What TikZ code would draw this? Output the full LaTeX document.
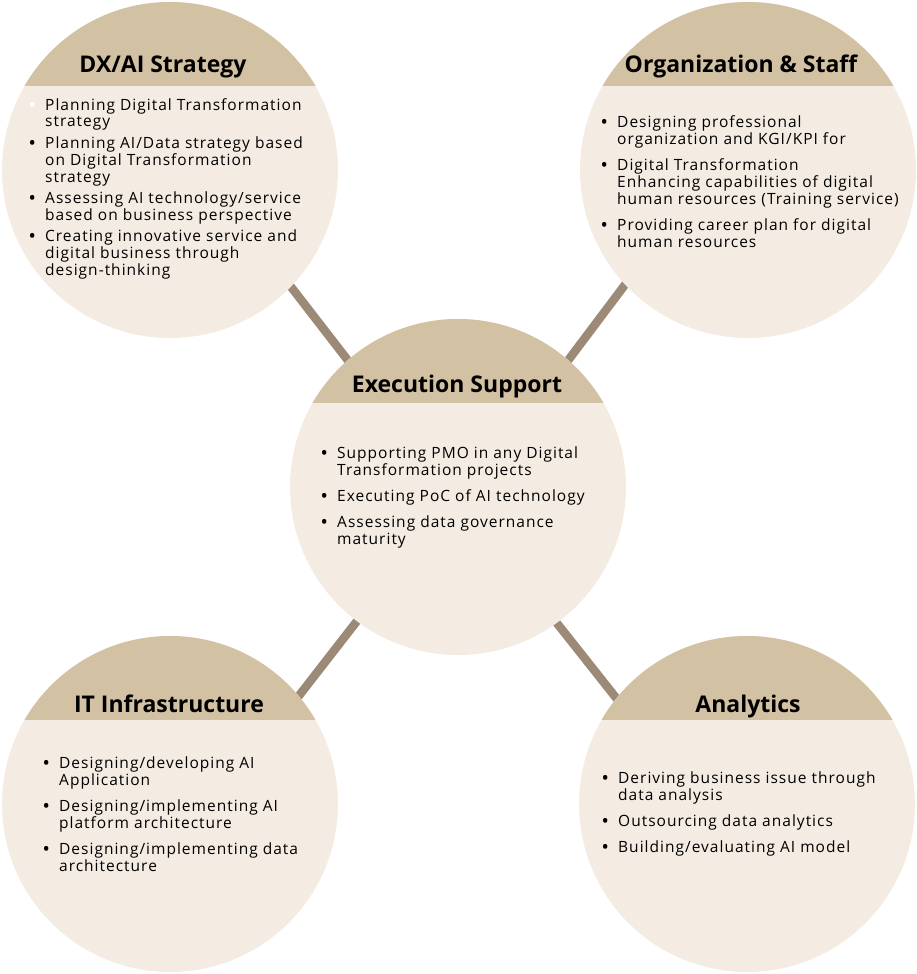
\documentclass[tikz,border=0pt]{standalone}
\usepackage{fontspec}
\setmainfont{Open Sans}
\newfontfamily\bodyf[LetterSpace=6.5]{Open Sans}
\definecolor{capc}{HTML}{D2C1A2}
\definecolor{bodyc}{HTML}{F4ECE2}
\definecolor{linkc}{HTML}{9D8A76}
\pgfdeclarelayer{background}
\pgfsetlayers{background,main}
\newcommand\bul{\leavevmode\llap{\textbf{\textbullet}\hspace{9pt}}}
\newcommand\wbul{\leavevmode\llap{\textcolor{white}{\textbf{\textbullet}}\hspace{9pt}}}
\newcommand\bubble[3]{%
  \node[bubblec] (#1) at (#2,#3) {};
  \begin{scope}
    \clip (#2,#3) circle (168pt);
    \fill[capc] ({#2-170},{#3-170}) rectangle ({#2+170},{#3-84});
  \end{scope}}
\tikzset{
  bubblec/.style={circle, fill=bodyc, minimum size=336pt, inner sep=0pt},
  titlec/.style={font=\fontsize{23}{26}\selectfont\bfseries, inner sep=0pt, anchor=base},
  txtc/.style={font=\bodyf\fontsize{15.5}{17}\selectfont, inner sep=0pt, anchor=base west, align=left},
  linkl/.style={draw=linkc, line width=8.5pt, shorten <=-8pt, shorten >=-8pt}
}
\begin{document}
\begin{tikzpicture}[x=1pt,y=-1pt]
\useasboundingbox (0,0) rectangle (916,974);
\bubble{dx}{170}{170}
\bubble{org}{748}{170}
\bubble{ex}{458}{487}
\bubble{it}{170}{804}
\bubble{an}{747}{804}
\begin{pgfonlayer}{background}
\draw[linkl] (dx.-44.5) -- (ex.131);
\draw[linkl] (org.223) -- (ex.49.5);
\draw[linkl] (it.40) -- (ex.233);
\draw[linkl] (an.141) -- (ex.-54);
\end{pgfonlayer}
\node[titlec] (dxh) at (163,73) {DX/AI Strategy};
\node[titlec] (orgh) at (741,73) {Organization \& Staff};
\node[titlec] (exh) at (457,392) {Execution Support};
\node[titlec] (ith) at (169,712) {IT Infrastructure};
\node[titlec] (anh) at (748,712) {Analytics};
\node[txtc] (dxt) at (45,110) {\parbox[t]{300pt}{%
\wbul Planning Digital Transformation\\
strategy\\[4pt]
\bul Planning AI/Data strategy based\\
on Digital Transformation\\
strategy\\[4pt]
\bul Assessing AI technology/service\\
based on business perspective\\[4pt]
\bul Creating innovative service and\\
digital business through\\
design-thinking}};
\node[txtc] (orgt) at (617,127) {\parbox[t]{300pt}{%
\bul Designing professional\\
organization and KGI/KPI for\\[9pt]
\bul Digital Transformation\\
Enhancing capabilities of digital\\
human resources (Training service)\\[9pt]
\bul Providing career plan for digital\\
human resources}};
\node[txtc] (ext) at (337,458) {\parbox[t]{300pt}{%
\bul Supporting PMO in any Digital\\
Transformation projects\\[9pt]
\bul Executing PoC of AI technology\\[9pt]
\bul Assessing data governance\\
maturity}};
\node[txtc] (itt) at (59,768) {\parbox[t]{300pt}{%
\bul Designing/developing AI\\
Application\\[9pt]
\bul Designing/implementing AI\\
platform architecture\\[9pt]
\bul Designing/implementing data\\
architecture}};
\node[txtc] (ant) at (618,783) {\parbox[t]{300pt}{%
\bul Deriving business issue through\\
data analysis\\[9pt]
\bul Outsourcing data analytics\\[9pt]
\bul Building/evaluating AI model}};
\end{tikzpicture}
\end{document}
